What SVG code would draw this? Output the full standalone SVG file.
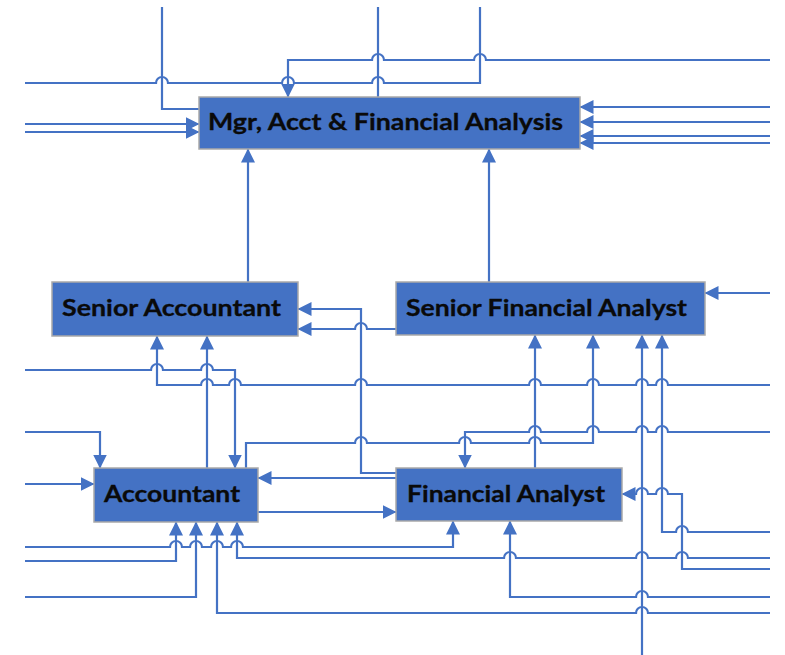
<svg xmlns="http://www.w3.org/2000/svg" width="785" height="655" viewBox="0 0 785 655">
  <style>
    .node rect { fill: #4472C4; stroke: #A9A9A9; stroke-width: 1.5; }
    .node text { font-family: Lato, "Liberation Sans", "DejaVu Sans", sans-serif; font-weight: 700; font-size: 23px; fill: #0a0a0a; stroke: #0a0a0a; stroke-width: 0.3; }
    #connectors path { fill: none; stroke: #4472C4; stroke-width: 2.2; }
    #connectors path.arr { marker-end: url(#ah); }
  </style>
  <defs>
    <marker id="ah" viewBox="0 0 14 14" refX="13.5" refY="7" markerWidth="14" markerHeight="14" markerUnits="userSpaceOnUse" orient="auto">
      <path d="M0,0 L14,7 L0,14 z" fill="#4472C4"/>
    </marker>
  </defs>

  <!-- connectors; horizontal runs hop over the vertical runs they cross -->
  <g id="connectors">
    <!-- top region -->
    <path d="M25,83 H156 a6,6 0 0 1 12,0 H282 a6,6 0 0 1 12,0 H372 a6,6 0 0 1 12,0 H480 V7"/>
    <path class="arr" d="M770,60 H486 a6,6 0 0 0 -12,0 H384 a6,6 0 0 0 -12,0 H288 V97"/>
    <path d="M162,7 V109 H199"/>
    <path d="M378,7 V97"/>
    <path class="arr" d="M25,124 H199"/>
    <path class="arr" d="M25,132 H199"/>
    <path class="arr" d="M770,107 H580"/>
    <path class="arr" d="M770,122 H580"/>
    <path class="arr" d="M770,136 H580"/>
    <path class="arr" d="M770,143 H580"/>
    <path class="arr" d="M248,282 V149"/>
    <path class="arr" d="M489,282 V149"/>

    <!-- into Senior Accountant -->
    <path class="arr" d="M396,473 H361 V309 H298"/>
    <path class="arr" d="M396,329 H367 a6,6 0 0 0 -12,0 H298"/>
    <path class="arr" d="M770,385 H668 a6,6 0 0 0 -12,0 H648 a6,6 0 0 0 -12,0 H599 a6,6 0 0 0 -12,0 H541 a6,6 0 0 0 -12,0 H367 a6,6 0 0 0 -12,0 H241 a6,6 0 0 0 -12,0 H213 a6,6 0 0 0 -12,0 H157 V336"/>
    <path class="arr" d="M207,468 V336"/>

    <!-- into Accountant (top / left) -->
    <path class="arr" d="M25,370 H151 a6,6 0 0 1 12,0 H201 a6,6 0 0 1 12,0 H235 V468"/>
    <path class="arr" d="M25,432 H100 V468"/>
    <path class="arr" d="M25,484 H94"/>

    <!-- Accountant to Senior Financial Analyst -->
    <path class="arr" d="M246,468 V443 H355 a6,6 0 0 1 12,0 H459 a6,6 0 0 1 12,0 H529 a6,6 0 0 1 12,0 H593 V335"/>

    <!-- into Financial Analyst top -->
    <path class="arr" d="M770,432 H668 a6,6 0 0 0 -12,0 H648 a6,6 0 0 0 -12,0 H599 a6,6 0 0 0 -12,0 H541 a6,6 0 0 0 -12,0 H465 V468"/>
    <path class="arr" d="M535,468 V335"/>

    <!-- between Accountant and Financial Analyst -->
    <path class="arr" d="M396,478 H258"/>
    <path class="arr" d="M258,512 H396"/>

    <!-- below Accountant -->
    <path class="arr" d="M25,547 H170 a6,6 0 0 1 12,0 H190 a6,6 0 0 1 12,0 H211 a6,6 0 0 1 12,0 H231 a6,6 0 0 1 12,0 H453 V521"/>
    <path class="arr" d="M25,561 H176 V522"/>
    <path class="arr" d="M770,558 H688 a6,6 0 0 0 -12,0 H648 a6,6 0 0 0 -12,0 H516 a6,6 0 0 0 -12,0 H237 V522"/>
    <path class="arr" d="M25,597 H196 V522"/>
    <path class="arr" d="M770,613 H648 a6,6 0 0 0 -12,0 H217 V522"/>
    <path class="arr" d="M770,597 H648 a6,6 0 0 0 -12,0 H510 V521"/>

    <!-- right side -->
    <path class="arr" d="M770,569 H682 V494 H668 a6,6 0 0 0 -12,0 H648 a6,6 0 0 0 -12,0 H622"/>
    <path class="arr" d="M770,532 H688 a6,6 0 0 0 -12,0 H662 V335"/>
    <path class="arr" d="M642,655 V335"/>
    <path class="arr" d="M770,293 H705"/>
  </g>

  <g id="mgr" class="node">
    <rect x="199" y="97" width="381" height="52"/>
    <text x="208" y="130" textLength="355" lengthAdjust="spacingAndGlyphs">Mgr, Acct &amp; Financial Analysis</text>
  </g>
  <g id="senior-accountant" class="node">
    <rect x="52" y="282" width="246" height="54"/>
    <text x="62" y="316" textLength="219" lengthAdjust="spacingAndGlyphs">Senior Accountant</text>
  </g>
  <g id="senior-financial-analyst" class="node">
    <rect x="396" y="282" width="309" height="53"/>
    <text x="406" y="316" textLength="281" lengthAdjust="spacingAndGlyphs">Senior Financial Analyst</text>
  </g>
  <g id="accountant" class="node">
    <rect x="94" y="468" width="164" height="54"/>
    <text x="104" y="502" textLength="136" lengthAdjust="spacingAndGlyphs">Accountant</text>
  </g>
  <g id="financial-analyst" class="node">
    <rect x="396" y="468" width="226" height="53"/>
    <text x="407" y="502" textLength="198" lengthAdjust="spacingAndGlyphs">Financial Analyst</text>
  </g>
</svg>
